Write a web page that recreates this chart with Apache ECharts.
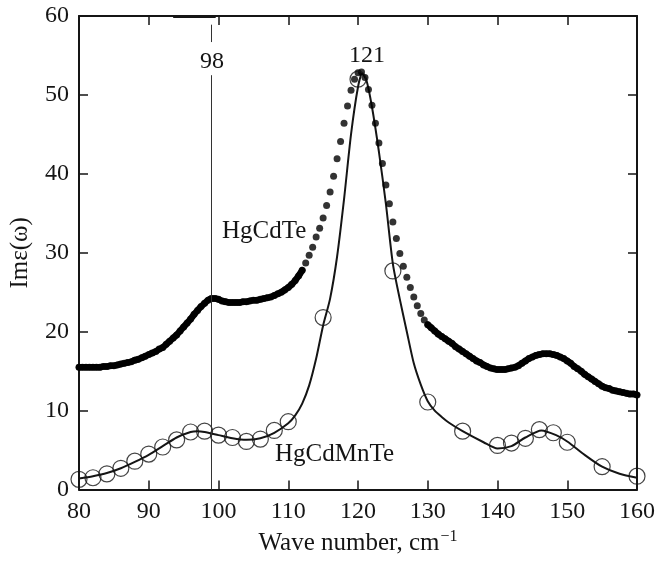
<!DOCTYPE html>
<html>
<head>
<meta charset="utf-8">
<script src="https://cdn.jsdelivr.net/npm/echarts@6/dist/echarts.min.js"></script>
<style>
html,body{margin:0;padding:0;background:#fff;}
#chart{width:661px;height:561px;}
</style>
</head>
<body>
<div id="chart"></div>
<script>
// ---- data ----
// HgCdTe (dots), sampled every 0.5 cm^-1 from 80 to 160
const hgcdteStart = 80;
const hgcdteStep = 0.5;
const hgcdteValues = [
  15.5,15.5,15.5,15.5,15.5,15.5,15.5,15.6,15.6,15.7,
  15.7,15.8,15.9,16.0,16.1,16.2,16.4,16.5,16.7,16.9,
  17.1,17.3,17.5,17.8,18.0,18.4,18.8,19.2,19.6,20.1,
  20.6,21.1,21.6,22.2,22.7,23.2,23.6,24.0,24.2,24.2,
  24.1,23.9,23.8,23.7,23.7,23.7,23.7,23.8,23.8,23.9,
  24.0,24.0,24.1,24.2,24.3,24.4,24.6,24.8,25.0,25.3,
  25.6,26.0,26.5,27.1,27.8,28.7,29.7,30.7,32.0,33.1,
  34.4,36.0,37.7,39.7,41.9,44.1,46.4,48.6,50.6,52.0,
  52.8,52.9,52.2,50.7,48.7,46.4,43.9,41.3,38.6,36.2,
  33.9,31.8,29.9,28.3,26.9,25.6,24.4,23.3,22.3,21.5,
  20.9,20.5,20.1,19.7,19.4,19.1,18.8,18.5,18.1,17.8,
  17.5,17.2,16.9,16.6,16.3,16.1,15.8,15.6,15.4,15.3,
  15.2,15.2,15.2,15.3,15.4,15.5,15.7,16.0,16.3,16.6,
  16.8,17.0,17.1,17.2,17.2,17.2,17.1,17.0,16.8,16.6,
  16.3,16.0,15.6,15.3,15.0,14.6,14.3,14.0,13.7,13.4,
  13.1,12.9,12.8,12.6,12.5,12.4,12.3,12.2,12.1,12.1,
  12.0
];
// ranges where the dots are so dense that they merge into a solid band
const denseRanges = [[80, 112], [130, 160]];

// HgCdMnTe fitted curve (solid line)
const mnLineX = [80,82,84,86,88,90,92,94,96,97,98,100,102,104,106,108,110,111,112,113,114,115,116,117,118,119,120,120.6,121.2,122,123,124,125,126,127,128,129,130,131,132,133,135,138,140,142,144,146.3,148.4,150,152.5,155,157.5,160];
const mnLineY = [1.4,1.7,2.1,2.7,3.5,4.4,5.5,6.6,7.3,7.4,7.3,6.9,6.5,6.3,6.5,7.2,8.4,9.4,10.9,13.2,16.6,20.8,24.2,29.5,36.8,45.0,51.0,52.7,51.9,48.5,42.8,36.2,28.6,24.1,20.0,16.0,13.3,11.2,10.0,9.2,8.5,7.4,6.0,5.2,5.5,6.6,7.5,6.9,6.1,4.4,2.9,2.0,1.5];

// HgCdMnTe measured points (open circles)
const mnPointX = [80,82,84,86,88,90,92,94,96,98,100,102,104,106,108,110,115,120,125,130,135,140,142,144,146,148,150,155,160];
const mnPointY = [1.3,1.5,2.0,2.7,3.6,4.5,5.4,6.3,7.3,7.4,6.9,6.6,6.1,6.4,7.5,8.6,21.8,52.0,27.7,11.1,7.4,5.6,5.9,6.5,7.6,7.2,6.0,2.9,1.7];

// annotation: vertical marker line at the "98" label
const markerX = 99;
const markerLower = [0, 52.5];
const markerUpper = [56.7, 58.9];
const topSegment = [93.5, 99.6];

const xTicks = {min: 80, max: 160, interval: 10};
const yTicks = {min: 0, max: 60, interval: 10};

// ---- build ----
const hgcdteData = hgcdteValues.map((v, i) => [hgcdteStart + i * hgcdteStep, v]);
const inDense = x => denseRanges.some(r => x >= r[0] && x <= r[1]);
const hgcdteBand = hgcdteData.map(p => inDense(p[0]) ? p : [p[0], null]);
const mnLineData = mnLineX.map((x, i) => [x, mnLineY[i]]);
const mnPointData = mnPointX.map((x, i) => [x, mnPointY[i]]);

const FONT = '"Liberation Serif", "Times New Roman", serif';
const INK = '#151515';

const chart = echarts.init(document.getElementById('chart'), null, {renderer: 'canvas'});

const axisCommon = {
  axisLine: {show: true, onZero: false, lineStyle: {color: INK, width: 2}},
  axisTick: {show: true, inside: true, length: 9, lineStyle: {color: INK, width: 1.5}},
  splitLine: {show: false}
};

chart.setOption({
  animation: false,
  backgroundColor: '#fff',
  grid: {left: 78, right: 24, top: 16, bottom: 70, containLabel: false},
  xAxis: [
    Object.assign({
      type: 'value', position: 'bottom',
      min: xTicks.min, max: xTicks.max, interval: xTicks.interval,
      axisLabel: {color: INK, fontFamily: FONT, fontSize: 24, margin: 10},
      name: 'Wave number, cm{sup|−1}',
      nameLocation: 'middle', nameGap: 33,
      nameTextStyle: {color: INK, fontFamily: FONT, fontSize: 25,
        rich: {sup: {fontFamily: FONT, fontSize: 16, color: INK, verticalAlign: 'top', padding: [0,0,14,1]}}}
    }, axisCommon),
    Object.assign({
      type: 'value', position: 'top',
      min: xTicks.min, max: xTicks.max, interval: xTicks.interval,
      axisLabel: {show: false}
    }, axisCommon)
  ],
  yAxis: [
    Object.assign({
      type: 'value', position: 'left',
      min: yTicks.min, max: yTicks.max, interval: yTicks.interval,
      axisLabel: {color: INK, fontFamily: FONT, fontSize: 24, margin: 10},
      name: 'Imε(ω)', nameLocation: 'middle', nameGap: 46, nameRotate: 90,
      nameTextStyle: {color: INK, fontFamily: FONT, fontSize: 25}
    }, axisCommon),
    Object.assign({
      type: 'value', position: 'right',
      min: yTicks.min, max: yTicks.max, interval: yTicks.interval,
      axisLabel: {show: false}
    }, axisCommon)
  ],
  series: [
    {
      name: 'HgCdMnTe fit', type: 'line', data: mnLineData,
      xAxisIndex: 0, yAxisIndex: 0,
      showSymbol: false, smooth: 0.25,
      lineStyle: {color: INK, width: 2},
      z: 2,
      markLine: {
        silent: true, symbol: 'none', label: {show: false},
        lineStyle: {color: '#333', width: 1, type: 'solid'},
        data: [
          [{coord: [markerX, markerLower[0]]}, {coord: [markerX, markerLower[1]]}],
          [{coord: [markerX, markerUpper[0]]}, {coord: [markerX, markerUpper[1]]}],
          [{coord: [topSegment[0], yTicks.max], lineStyle: {width: 3, color: INK}}, {coord: [topSegment[1], yTicks.max]}]
        ]
      }
    },
    {
      name: 'HgCdTe band', type: 'line', data: hgcdteBand,
      showSymbol: false, connectNulls: false, smooth: 0.2,
      lineStyle: {color: '#000', width: 6.5, cap: 'round', join: 'round'},
      z: 3
    },
    {
      name: 'HgCdTe', type: 'scatter', data: hgcdteData,
      symbol: 'circle', symbolSize: 7,
      itemStyle: {color: '#000'},
      z: 3
    },
    {
      name: 'HgCdMnTe', type: 'scatter', data: mnPointData,
      symbol: 'circle', symbolSize: 16,
      itemStyle: {color: 'rgba(0,0,0,0)', borderColor: INK, borderWidth: 1.2},
      z: 4
    }
  ],
  graphic: [
    {type: 'text', x: 212, y: 62, style: {text: '98', font: '24px ' + FONT, fill: INK, textAlign: 'center', textVerticalAlign: 'middle'}},
    {type: 'text', x: 367, y: 56, style: {text: '121', font: '24px ' + FONT, fill: INK, textAlign: 'center', textVerticalAlign: 'middle'}},
    {type: 'text', x: 222, y: 231, style: {text: 'HgCdTe', font: '25px ' + FONT, fill: INK, textAlign: 'left', textVerticalAlign: 'middle'}},
    {type: 'text', x: 275, y: 454, style: {text: 'HgCdMnTe', font: '25px ' + FONT, fill: INK, textAlign: 'left', textVerticalAlign: 'middle'}}
  ]
});
</script>
</body>
</html>
